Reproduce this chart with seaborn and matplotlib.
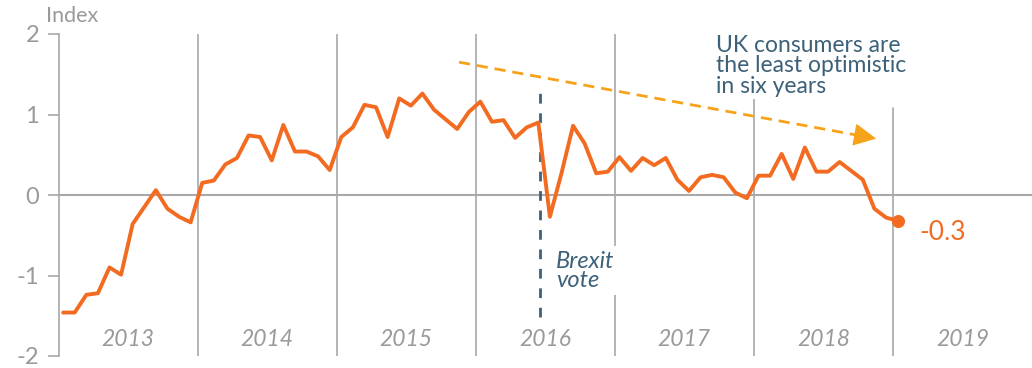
import matplotlib
matplotlib.use("Agg")
import matplotlib.pyplot as plt
import seaborn as sns
import numpy as np
import pandas as pd

# ---- data ----
start_year = 2013
values = [
    -1.46, -1.46, -1.24, -1.22, -0.90, -0.99, -0.36, -0.15, 0.06, -0.17, -0.27, -0.34,   # 2013
    0.15, 0.18, 0.38, 0.46, 0.74, 0.72, 0.43, 0.87, 0.54, 0.54, 0.48, 0.31,              # 2014
    0.72, 0.84, 1.12, 1.09, 0.72, 1.20, 1.11, 1.26, 1.06, 0.94, 0.82, 1.03,              # 2015
    1.16, 0.91, 0.93, 0.71, 0.84, 0.90, -0.27, 0.27, 0.86, 0.64, 0.27, 0.29,             # 2016
    0.47, 0.30, 0.46, 0.37, 0.46, 0.19, 0.05, 0.22, 0.25, 0.22, 0.03, -0.04,             # 2017
    0.24, 0.24, 0.51, 0.20, 0.59, 0.29, 0.29, 0.41, 0.30, 0.19, -0.17, -0.28,            # 2018
    -0.32,                                                                                 # 2019
]
years = [2013, 2014, 2015, 2016, 2017, 2018, 2019]
yticks = [-2, -1, 0, 1, 2]
brexit_date = 2016.46
arrow_start = (2015.88, 1.65)
arrow_end = (2018.88, 0.70)
last_label = "-0.3"
annotation = "UK consumers are\nthe least optimistic\nin six years"

ORANGE = "#F26B21"
ARROW = "#F7A21B"
TEAL = "#3D6178"
GRAY = "#A8A8A8"
TXT = "#9A9A9A"

month_idx = np.arange(len(values))
df = pd.DataFrame({"t": start_year + (month_idx + 0.4) / 12.0, "v": values})

sns.set_theme(style="white")
plt.rcParams["font.family"] = ["Lato", "DejaVu Sans"]

fig = plt.figure(figsize=(10.32, 3.68), dpi=100)
ax = fig.add_axes([58.5 / 1032, 12 / 368, 1 - 58.5 / 1032, (356 - 34) / 368])

ax.set_xlim(2013, 2020.0)
ax.set_ylim(-2, 2)

# year separators
for yr in years[1:]:
    ymax = 1.0
    if yr == 2019:
        ymax = (1.08 + 2) / 4
    ax.axvline(yr, ymin=0, ymax=ymax, color=GRAY, lw=1.2, zorder=1)
ax.axhline(0, color=GRAY, lw=1.5, zorder=1)

# year labels
for yr in years:
    ax.text(yr + 0.5, -1.8, str(yr), ha="center", va="center", fontsize=16.5,
            style="italic", color=TXT, zorder=2)

# Brexit line + label
ax.plot([brexit_date, brexit_date], [-1.52, 1.32], color=TEAL, lw=2,
        ls=(0, (3.5, 3.5)), zorder=3)
ax.text(brexit_date + 0.115, -0.69, "Brexit\nvote", ha="left", va="top", fontsize=17,
        style="italic", color=TEAL, linespacing=0.92, zorder=4,
        bbox=dict(facecolor="white", edgecolor="none", pad=3))

# main line
sns.lineplot(data=df, x="t", y="v", color=ORANGE, lw=2.8, ax=ax, zorder=5)
ax.scatter([df["t"].iloc[-1]], [df["v"].iloc[-1]], s=70, color=ORANGE, zorder=6)
ax.text(df["t"].iloc[-1] + 0.16, df["v"].iloc[-1] - 0.15, last_label, ha="left",
        va="center", fontsize=19, color=ORANGE)

# trend arrow: dashed shaft + solid head
frac = 0.96
shaft_end = (arrow_start[0] + frac * (arrow_end[0] - arrow_start[0]),
             arrow_start[1] + frac * (arrow_end[1] - arrow_start[1]))
ax.plot([arrow_start[0], shaft_end[0]], [arrow_start[1], shaft_end[1]], color=ARROW,
        lw=2, ls=(0, (4, 2.5)), zorder=4)
head_back = (arrow_start[0] + 0.94 * (arrow_end[0] - arrow_start[0]),
             arrow_start[1] + 0.94 * (arrow_end[1] - arrow_start[1]))
ax.annotate("", xy=arrow_end, xytext=head_back,
            arrowprops=dict(arrowstyle="-|>,head_length=1.2,head_width=0.6",
                            color=ARROW, lw=1, shrinkA=0, shrinkB=0),
            zorder=4)

# annotation text
ax.text(2017.73, 1.99, annotation, ha="left", va="top", fontsize=16.5, color=TEAL,
        linespacing=0.98, zorder=4,
        bbox=dict(facecolor="white", edgecolor="none", pad=1))

# axes styling
ax.set_xlabel("")
ax.set_ylabel("")
ax.set_xticks([])
ax.set_yticks(yticks)
ax.set_yticklabels([str(t) for t in yticks])
ax.tick_params(axis="y", colors=GRAY, labelcolor=TXT, labelsize=17, length=8,
               width=1.2, direction="out", left=True, pad=6)
for s in ["top", "right", "bottom"]:
    ax.spines[s].set_visible(False)
ax.spines["left"].set_color(GRAY)
ax.spines["left"].set_linewidth(1.2)

fig.text(46 / 1032, 1 - 16 / 368, "Index", ha="left", va="center", fontsize=15.5, color=TXT)

fig.savefig("out.png", dpi=100)
